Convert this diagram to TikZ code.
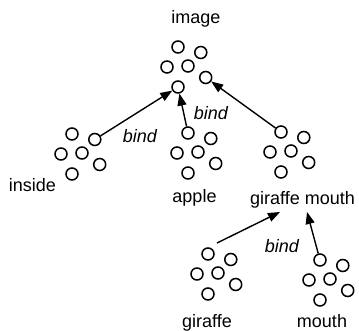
\documentclass[tikz,border=0pt]{standalone}
\usepackage{fontspec}
\setmainfont{Liberation Sans}
\usetikzlibrary{arrows.meta}
\tikzset{
  dot/.style={circle, draw, line width=1.5pt, minimum size=12pt, inner sep=0pt},
  lbl/.style={anchor=base, inner sep=0pt, font=\fontsize{18}{20}\selectfont},
  bindlbl/.style={anchor=base, inner sep=0pt, font=\fontsize{18}{20}\selectfont\itshape},
  arr/.style={line width=1.4pt, -{Triangle[length=12pt,width=9pt]}}
}
\newcommand\cluster[3]{%
  \foreach \i/\dx/\dy in {1/0/0,2/22.8/5.5,3/-11/20,4/10/19,5/27.7/30.5,6/0/40}
    \node[dot] (#1\i) at (#2+\dx,#3+\dy) {};%
}
\begin{document}
\begin{tikzpicture}[x=1pt,y=-1pt]
\useasboundingbox (0,0) rectangle (359,331);
% clusters
\cluster{img}{178}{47}
\cluster{ins}{72}{134}
\cluster{app}{188}{133}
\cluster{gm}{281}{132}
\cluster{gir}{208}{254}
\cluster{mou}{320}{260}
% labels
\node[lbl] (limage) at (196,23.5) {image};
\node[lbl] (linside) at (32.5,192) {inside};
\node[lbl] (lapple) at (194.5,203) {apple};
\node[lbl] (lgm) at (302.5,205) {giraffe mouth};
\node[lbl] (lgir) at (207,327) {giraffe};
\node[lbl] (lmou) at (322,327) {mouth};
\node[bindlbl] (b1) at (140,143) {bind};
\node[bindlbl] (b2) at (211,120) {bind};
\node[bindlbl] (b3) at (282,253) {bind};
% connector ends
\coordinate (girstart) at (217,243);
\coordinate (gmleft) at (280,212);
\coordinate (gmright) at (307,212);
% arrows
\draw[arr] (ins2) -- (img6);
\draw[arr] (app1) -- (img6);
\draw[arr] (gm1) -- (img5);
\draw[arr] (girstart) -- (gmleft);
\draw[arr] (mou1) -- (gmright);
\end{tikzpicture}
\end{document}
